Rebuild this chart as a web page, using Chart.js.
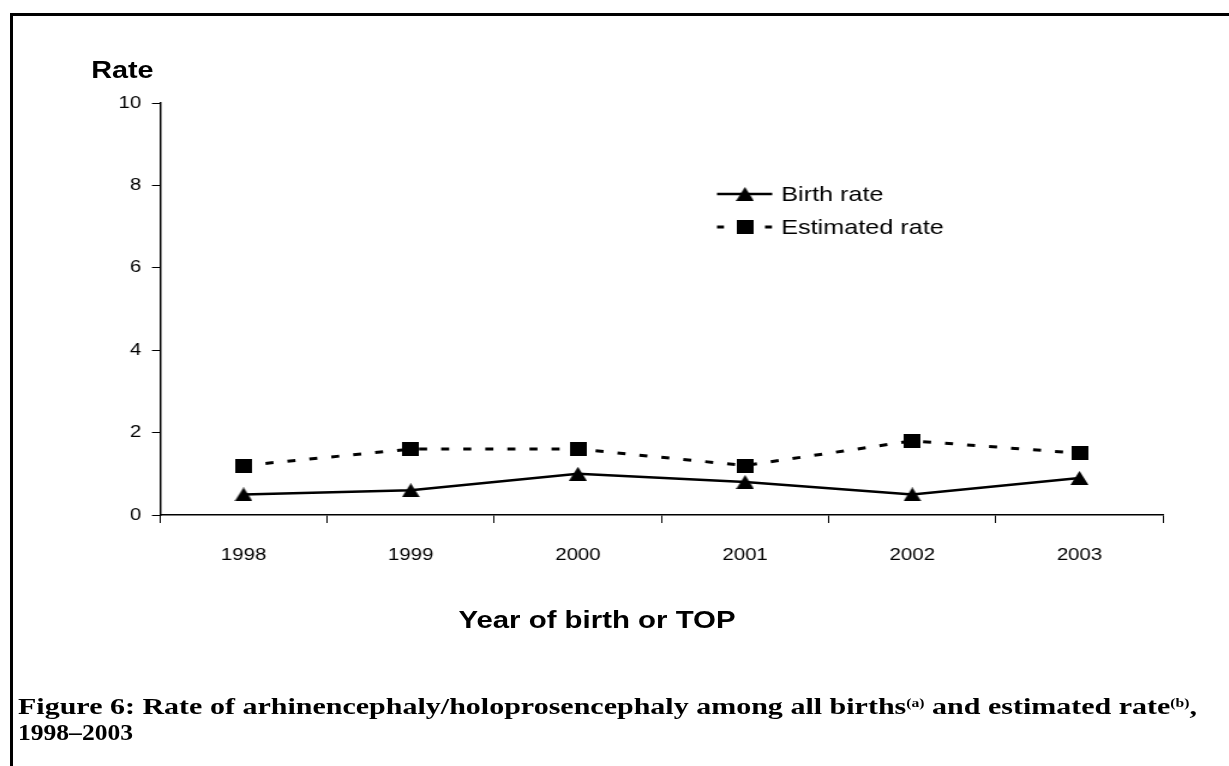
<!DOCTYPE html>
<html>
<head>
<meta charset="utf-8">
<script src="https://cdn.jsdelivr.net/npm/chart.js@4"></script>
<style>
  body { margin: 0; background: #fff; }
  #wrap { position: relative; width: 1229px; height: 766px; overflow: hidden; }
  #frame { position: absolute; left: 10px; top: 13px; width: 1300px; height: 800px;
           border-left: 3px solid #000; border-top: 3px solid #000; }
  /* the original picture is a little wider than tall, so stretch the chart sideways */
  #stage { position: absolute; left: 0; top: 0; width: 1024px; height: 766px;
           transform: scaleX(1.2); transform-origin: 0 0; }
  canvas { position: absolute; left: 0; top: 0; }
  .lbl { position: absolute; font-family: "Liberation Sans", Arial, sans-serif; font-weight: bold; color: #000; white-space: nowrap; }
  #ytitle { left: 76px; top: 56px; font-size: 24px; }
  #xtitle { left: 382px; top: 606px; font-size: 24.5px; }
  .cap { position: absolute; left: 18px; font-family: "Liberation Serif", serif; font-weight: bold;
         font-size: 23px; line-height: 30px; color: #000; white-space: nowrap; transform-origin: 0 0; }
  #cap1 { top: 688px; }
  #cap2 { top: 718px; }
  .cap sup { font-size: 12px; vertical-align: 7px; }
</style>
</head>
<body>
<div id="wrap">
  <div id="frame"></div>
  <div id="stage">
    <canvas id="chart" width="1024" height="766"></canvas>
    <div class="lbl" id="ytitle">Rate</div>
    <div class="lbl" id="xtitle">Year of birth or TOP</div>
  </div>
  <div class="cap" id="cap1">Figure 6: Rate of arhinencephaly/holoprosencephaly among all births<sup>(a)</sup> and estimated rate<sup>(b)</sup>,</div>
  <div class="cap" id="cap2">1998–2003</div>
</div>
<script>
// data
const years = ["1998", "1999", "2000", "2001", "2002", "2003"];
const birthRate = [0.5, 0.6, 1.0, 0.8, 0.5, 0.9];
const estimatedRate = [1.2, 1.6, 1.6, 1.2, 1.8, 1.5];
const yTicks = [0, 2, 4, 6, 8, 10];

const tickFont = { family: "Liberation Sans", size: 17 };

// fit the caption lines to the widths they have in the original
function fitWidth(id, w) {
  const el = document.getElementById(id);
  el.style.transform = "scaleX(" + (w / el.getBoundingClientRect().width) + ")";
}
fitWidth("cap1", 1179);
fitWidth("cap2", 115);

function marker(kind, w, h) {
  const c = document.createElement("canvas");
  c.width = w; c.height = h;
  const g = c.getContext("2d");
  g.fillStyle = "#000";
  if (kind === "tri") {
    g.beginPath();
    g.moveTo(w / 2, 0);
    g.lineTo(w, h);
    g.lineTo(0, h);
    g.closePath();
    g.fill();
  } else {
    g.fillRect(0, 0, w, h);
  }
  return c;
}
const triMark = marker("tri", 15, 14);
const sqMark = marker("sq", 14, 14);

// legend drawn inside the plot, like the original
const innerLegend = {
  id: "innerLegend",
  afterDatasetsDraw(chart) {
    const ctx = chart.ctx;
    const rows = [
      { y: 194, dash: [], ds: chart.data.datasets[0] },
      { y: 227, dash: [5.8, 34.2], ds: chart.data.datasets[1] },
    ];
    ctx.save();
    rows.forEach(r => {
      ctx.strokeStyle = "#000";
      ctx.lineWidth = r.ds.borderWidth;
      ctx.setLineDash(r.dash);
      ctx.beginPath();
      ctx.moveTo(597.5, r.y);
      ctx.lineTo(643.5, r.y);
      ctx.stroke();
      ctx.setLineDash([]);
      const m = r.ds.pointStyle;
      ctx.drawImage(m, 620.8 - m.width / 2, r.y - m.height / 2);
      ctx.fillStyle = "#000";
      ctx.font = "21px 'Liberation Sans'";
      ctx.textBaseline = "middle";
      ctx.fillText(r.ds.label, 651, r.y + 1);
    });
    ctx.restore();
  }
};

new Chart(document.getElementById("chart"), {
  type: "line",
  data: {
    labels: years,
    datasets: [
      {
        label: "Birth rate",
        data: birthRate,
        borderColor: "#000",
        backgroundColor: "#000",
        borderWidth: 2.5,
        pointStyle: triMark,
        pointRadius: 8,
        tension: 0,
      },
      {
        label: "Estimated rate",
        data: estimatedRate,
        borderColor: "#000",
        backgroundColor: "#000",
        borderWidth: 3,
        borderDash: [6.7, 11.7],
        pointStyle: sqMark,
        pointRadius: 8,
        tension: 0,
      },
    ],
  },
  options: {
    responsive: false,
    animation: false,
    layout: { padding: { left: 0, right: 54.8, top: 103, bottom: 0 } },
    plugins: { legend: { display: false }, tooltip: { enabled: false } },
    scales: {
      x: {
        offset: true,
        grid: { offset: true, drawOnChartArea: false, tickLength: 8, color: "#000", lineWidth: 1 },
        border: { color: "#000", width: 1.5 },
        ticks: { font: tickFont, color: "#000", padding: 22, maxRotation: 0 },
        afterFit: s => { s.height = 766 - 515; },
      },
      y: {
        min: 0,
        max: 10,
        afterBuildTicks: s => { s.ticks = yTicks.map(v => ({ value: v })); },
        grid: { drawOnChartArea: false, tickLength: 6.7, color: "#000", lineWidth: 1 },
        border: { color: "#000", width: 1.5 },
        ticks: { font: tickFont, color: "#000", padding: 9 },
        afterFit: s => { s.width = 133.3; },
      },
    },
  },
  plugins: [innerLegend],
});
</script>
</body>
</html>
